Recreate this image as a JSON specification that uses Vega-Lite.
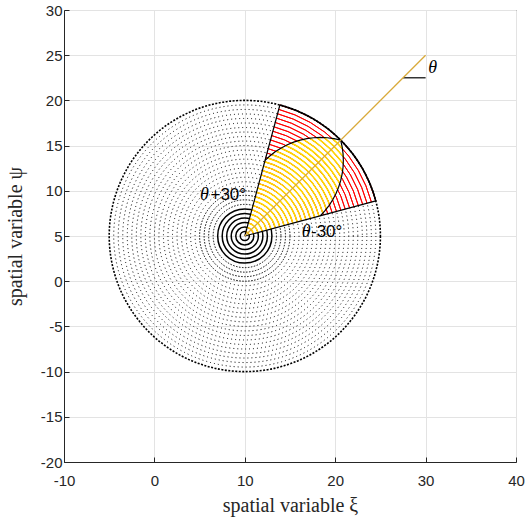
{
  "$schema": "https://vega.github.io/schema/vega-lite/v6.json",
  "width": 452,
  "height": 452,
  "autosize": {"type": "none"},
  "padding": {"left": 64, "top": 10, "right": 13, "bottom": 57},
  "background": "white",
  "config": {
    "view": {"stroke": "#262626", "strokeWidth": 1},
    "axis": {
      "domainColor": "#262626",
      "tickColor": "#262626",
      "labelColor": "#262626",
      "labelFont": "Liberation Sans",
      "labelFontSize": 15,
      "labelFlush": false,
      "labelOverlap": false,
      "gridColor": "#e3e3e3",
      "tickSize": -5,
      "titleFont": "Liberation Serif",
      "titleFontWeight": "normal",
      "titleFontSize": 20,
      "titleColor": "#262626",
      "labelExpr": "datum.value < 0 ? '-' + abs(datum.value) : '' + datum.value"
    }
  },
  "datasets": {
    "rings": [
      {"r": 0.5}, {"r": 1}, {"r": 1.5}, {"r": 2}, {"r": 2.5}, {"r": 3}, {"r": 3.5}, {"r": 4}, {"r": 4.5}, {"r": 5},
      {"r": 5.5}, {"r": 6}, {"r": 6.5}, {"r": 7}, {"r": 7.5}, {"r": 8}, {"r": 8.5}, {"r": 9}, {"r": 9.5}, {"r": 10},
      {"r": 10.5}, {"r": 11}, {"r": 11.5}, {"r": 12}, {"r": 12.5}, {"r": 13}, {"r": 13.5}, {"r": 14}, {"r": 14.5}, {"r": 15}
    ],
    "yellow": [
      {"r": 0.5, "t1": 15, "t2": 75}, {"r": 1, "t1": 15, "t2": 75}, {"r": 1.5, "t1": 15, "t2": 75},
      {"r": 2, "t1": 15, "t2": 75}, {"r": 2.5, "t1": 15, "t2": 75}, {"r": 3, "t1": 15, "t2": 75},
      {"r": 3.5, "t1": 15, "t2": 75}, {"r": 4, "t1": 15, "t2": 75}, {"r": 4.5, "t1": 15, "t2": 75},
      {"r": 5, "t1": 15, "t2": 75}, {"r": 5.5, "t1": 15, "t2": 75}, {"r": 6, "t1": 15, "t2": 75},
      {"r": 6.5, "t1": 15, "t2": 75}, {"r": 7, "t1": 15, "t2": 75}, {"r": 7.5, "t1": 15, "t2": 75},
      {"r": 8, "t1": 15, "t2": 75}, {"r": 8.5, "t1": 15, "t2": 75},
      {"r": 9, "t1": 16.31, "t2": 73.69}, {"r": 9.5, "t1": 18.26, "t2": 71.74},
      {"r": 10, "t1": 20.26, "t2": 69.74}, {"r": 10.5, "t1": 22.31, "t2": 67.69},
      {"r": 11, "t1": 24.43, "t2": 65.57}, {"r": 11.5, "t1": 26.6, "t2": 63.4},
      {"r": 12, "t1": 28.85, "t2": 61.15}, {"r": 12.5, "t1": 31.2, "t2": 58.8},
      {"r": 13, "t1": 33.64, "t2": 56.36}, {"r": 13.5, "t1": 36.21, "t2": 53.79},
      {"r": 14, "t1": 38.93, "t2": 51.07}, {"r": 14.5, "t1": 41.85, "t2": 48.15}
    ],
    "lens": [
      {"seg": "u", "o": 0, "x": 20.606, "y": 15.606}, {"seg": "u", "o": 1, "x": 19.869, "y": 15.769},
      {"seg": "u", "o": 2, "x": 19.12, "y": 15.868}, {"seg": "u", "o": 3, "x": 18.365, "y": 15.901},
      {"seg": "u", "o": 4, "x": 17.61, "y": 15.868}, {"seg": "u", "o": 5, "x": 16.861, "y": 15.769},
      {"seg": "u", "o": 6, "x": 16.124, "y": 15.606}, {"seg": "u", "o": 7, "x": 15.403, "y": 15.379},
      {"seg": "u", "o": 8, "x": 14.705, "y": 15.09}, {"seg": "u", "o": 9, "x": 14.035, "y": 14.741},
      {"seg": "u", "o": 10, "x": 13.398, "y": 14.335}, {"seg": "u", "o": 11, "x": 12.798, "y": 13.875},
      {"seg": "u", "o": 12, "x": 12.241, "y": 13.365},
      {"seg": "l", "o": 0, "x": 20.606, "y": 15.606}, {"seg": "l", "o": 1, "x": 20.769, "y": 14.869},
      {"seg": "l", "o": 2, "x": 20.868, "y": 14.12}, {"seg": "l", "o": 3, "x": 20.901, "y": 13.365},
      {"seg": "l", "o": 4, "x": 20.868, "y": 12.61}, {"seg": "l", "o": 5, "x": 20.769, "y": 11.861},
      {"seg": "l", "o": 6, "x": 20.606, "y": 11.124}, {"seg": "l", "o": 7, "x": 20.379, "y": 10.403},
      {"seg": "l", "o": 8, "x": 20.09, "y": 9.705}, {"seg": "l", "o": 9, "x": 19.741, "y": 9.035},
      {"seg": "l", "o": 10, "x": 19.335, "y": 8.398}, {"seg": "l", "o": 11, "x": 18.875, "y": 7.798},
      {"seg": "l", "o": 12, "x": 18.365, "y": 7.241}
    ],
    "segments": [
      {"kind": "edge", "x": 10, "y": 5, "x2": 24.489, "y2": 8.882},
      {"kind": "edge", "x": 10, "y": 5, "x2": 13.882, "y2": 19.489},
      {"kind": "marker", "x": 27.5, "y": 22.5, "x2": 30, "y2": 22.5}
    ],
    "dirline": [
      {"x": 10, "y": 5, "x2": 30, "y2": 25}
    ],
    "labels": [
      {"text": "θ", "font": "serif", "x": 5.05, "y": 8.98},
      {"text": "+30°", "font": "sans", "x": 6.2, "y": 8.98},
      {"text": "θ", "font": "serif", "x": 16.3, "y": 4.92},
      {"text": "-30°", "font": "sans", "x": 17.32, "y": 4.92},
      {"text": "θ", "font": "serif", "x": 30.3, "y": 23.0}
    ]
  },
  "layer": [
    {
      "data": {"name": "segments"},
      "transform": [{"filter": "datum.kind == 'edge'"}],
      "mark": {"type": "rule", "opacity": 0},
      "encoding": {
        "x": {"field": "x", "type": "quantitative",
              "scale": {"domain": [-10, 40], "nice": false, "zero": false},
              "axis": {"values": [-10, 0, 10, 20, 30, 40], "title": "spatial variable ξ", "labelPadding": 16, "titlePadding": 7, "grid": true}},
        "y": {"field": "y", "type": "quantitative",
              "scale": {"domain": [-20, 30], "nice": false, "zero": false},
              "axis": {"values": [-20, -15, -10, -5, 0, 5, 10, 15, 20, 25, 30], "title": "spatial variable ψ", "labelPadding": 7, "titlePadding": 15, "grid": true}},
        "x2": {"field": "x2"},
        "y2": {"field": "y2"}
      }
    },
    {
      "data": {"name": "rings"},
      "transform": [{"filter": "datum.r >= 5.5 && datum.r <= 14.5"}],
      "mark": {"type": "point", "shape": "circle", "filled": false, "color": "black", "opacity": 1, "strokeWidth": 1, "strokeDash": [1, 3]},
      "encoding": {
        "x": {"datum": 10, "type": "quantitative"},
        "y": {"datum": 5, "type": "quantitative"},
        "size": {"field": "r", "type": "quantitative", "legend": null, "scale": {"type": "pow", "exponent": 2, "domain": [0, 15], "range": [0, 73549], "zero": true, "nice": false}}
      }
    },
    {
      "data": {"name": "rings"},
      "transform": [{"filter": "datum.r >= 3.5 && datum.r <= 5"}],
      "mark": {"type": "point", "shape": "circle", "filled": false, "color": "black", "opacity": 1, "strokeWidth": 1, "strokeDash": [1.5, 1.5]},
      "encoding": {
        "x": {"datum": 10, "type": "quantitative"},
        "y": {"datum": 5, "type": "quantitative"},
        "size": {"field": "r", "type": "quantitative", "legend": null, "scale": {"type": "pow", "exponent": 2, "domain": [0, 15], "range": [0, 73549], "zero": true, "nice": false}}
      }
    },
    {
      "data": {"name": "rings"},
      "transform": [{"filter": "datum.r <= 3"}],
      "mark": {"type": "point", "shape": "circle", "filled": false, "color": "black", "opacity": 1, "strokeWidth": 1.5},
      "encoding": {
        "x": {"datum": 10, "type": "quantitative"},
        "y": {"datum": 5, "type": "quantitative"},
        "size": {"field": "r", "type": "quantitative", "legend": null, "scale": {"type": "pow", "exponent": 2, "domain": [0, 15], "range": [0, 73549], "zero": true, "nice": false}}
      }
    },
    {
      "data": {"name": "dirline"},
      "mark": {"type": "arc", "color": "white", "strokeWidth": 0},
      "encoding": {
        "x": {"datum": 10, "type": "quantitative"},
        "y": {"datum": 5, "type": "quantitative"},
        "theta": {"datum": 15, "type": "quantitative", "scale": {"domain": [0, 360], "range": [0, 6.283185307179586], "zero": true, "nice": false}},
        "theta2": {"datum": 75},
        "radius": {"datum": 0, "type": "quantitative", "scale": {"type": "linear", "domain": [0, 15], "range": [0, 135.6], "zero": true, "nice": false}},
        "radius2": {"datum": 15}
      }
    },
    {
      "data": {"name": "rings"},
      "mark": {"type": "arc", "filled": false, "color": "#ff0000", "strokeWidth": 1},
      "encoding": {
        "x": {"datum": 10, "type": "quantitative"},
        "y": {"datum": 5, "type": "quantitative"},
        "theta": {"datum": 15, "type": "quantitative", "scale": {"domain": [0, 360], "range": [0, 6.283185307179586], "zero": true, "nice": false}},
        "theta2": {"datum": 75},
        "radius": {"field": "r", "type": "quantitative", "scale": {"type": "linear", "domain": [0, 15], "range": [0, 135.6], "zero": true, "nice": false}},
        "radius2": {"field": "r"}
      }
    },
    {
      "data": {"name": "yellow"},
      "mark": {"type": "arc", "filled": false, "color": "#ffdd00", "strokeWidth": 1.5},
      "encoding": {
        "x": {"datum": 10, "type": "quantitative"},
        "y": {"datum": 5, "type": "quantitative"},
        "theta": {"field": "t1", "type": "quantitative", "scale": {"domain": [0, 360], "range": [0, 6.283185307179586], "zero": true, "nice": false}},
        "theta2": {"field": "t2"},
        "radius": {"field": "r", "type": "quantitative", "scale": {"type": "linear", "domain": [0, 15], "range": [0, 135.6], "zero": true, "nice": false}},
        "radius2": {"field": "r"}
      }
    },
    {
      "data": {"name": "rings"},
      "transform": [{"filter": "datum.r == 15"}],
      "mark": {"type": "point", "shape": "circle", "filled": false, "color": "black", "opacity": 1, "strokeWidth": 1.6, "strokeDash": [2, 1.5]},
      "encoding": {
        "x": {"datum": 10, "type": "quantitative"},
        "y": {"datum": 5, "type": "quantitative"},
        "size": {"field": "r", "type": "quantitative", "legend": null, "scale": {"type": "pow", "exponent": 2, "domain": [0, 15], "range": [0, 73549], "zero": true, "nice": false}}
      }
    },
    {
      "data": {"name": "rings"},
      "transform": [{"filter": "datum.r == 15"}],
      "mark": {"type": "arc", "filled": false, "color": "black", "strokeWidth": 1.5},
      "encoding": {
        "x": {"datum": 10, "type": "quantitative"},
        "y": {"datum": 5, "type": "quantitative"},
        "theta": {"datum": 15, "type": "quantitative", "scale": {"domain": [0, 360], "range": [0, 6.283185307179586], "zero": true, "nice": false}},
        "theta2": {"datum": 75},
        "radius": {"field": "r", "type": "quantitative", "scale": {"type": "linear", "domain": [0, 15], "range": [0, 135.6], "zero": true, "nice": false}},
        "radius2": {"field": "r"}
      }
    },
    {
      "data": {"name": "segments"},
      "mark": {"type": "rule", "color": "black", "strokeWidth": 1.2},
      "encoding": {
        "x": {"field": "x", "type": "quantitative"},
        "y": {"field": "y", "type": "quantitative"},
        "x2": {"field": "x2"},
        "y2": {"field": "y2"}
      }
    },
    {
      "data": {"name": "lens"},
      "mark": {"type": "line", "color": "black", "strokeWidth": 1.2},
      "encoding": {
        "x": {"field": "x", "type": "quantitative"},
        "y": {"field": "y", "type": "quantitative"},
        "detail": {"field": "seg"},
        "order": {"field": "o", "type": "quantitative"}
      }
    },
    {
      "data": {"name": "dirline"},
      "mark": {"type": "rule", "color": "#d9aa3a", "strokeWidth": 1.3},
      "encoding": {
        "x": {"field": "x", "type": "quantitative"},
        "y": {"field": "y", "type": "quantitative"},
        "x2": {"field": "x2"},
        "y2": {"field": "y2"}
      }
    },
    {
      "data": {"name": "labels"},
      "transform": [{"filter": "datum.font == 'serif'"}],
      "mark": {"type": "text", "font": "Liberation Serif", "fontStyle": "italic", "fontSize": 18, "align": "left", "baseline": "alphabetic", "color": "black"},
      "encoding": {
        "x": {"field": "x", "type": "quantitative"},
        "y": {"field": "y", "type": "quantitative"},
        "text": {"field": "text"}
      }
    },
    {
      "data": {"name": "labels"},
      "transform": [{"filter": "datum.font == 'sans'"}],
      "mark": {"type": "text", "font": "Liberation Sans", "fontSize": 17, "align": "left", "baseline": "alphabetic", "color": "black"},
      "encoding": {
        "x": {"field": "x", "type": "quantitative"},
        "y": {"field": "y", "type": "quantitative"},
        "text": {"field": "text"}
      }
    }
  ]
}
